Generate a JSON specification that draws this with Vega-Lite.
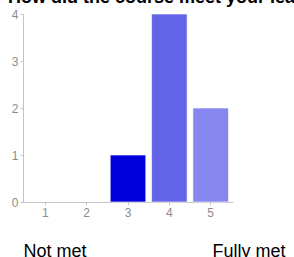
{
  "$schema": "https://vega.github.io/schema/vega-lite/v6.json",
  "width": 210,
  "height": 188,
  "autosize": {"type": "none"},
  "padding": {"left": 23, "top": 14, "right": 61, "bottom": 55},
  "background": "white",
  "title": {
    "text": "How did the course meet your learning objectives?",
    "anchor": "start",
    "frame": "group",
    "font": "Liberation Sans",
    "fontSize": 18,
    "fontWeight": "bold",
    "color": "#000000",
    "dx": -15,
    "dy": 3,
    "offset": 4
  },
  "data": {
    "values": [
      {"rating": "1", "count": 0},
      {"rating": "2", "count": 0},
      {"rating": "3", "count": 1},
      {"rating": "4", "count": 4},
      {"rating": "5", "count": 2}
    ]
  },
  "encoding": {
    "x": {
      "field": "rating",
      "type": "ordinal",
      "scale": {"paddingInner": 0.14, "paddingOuter": 0.11}
    }
  },
  "layer": [
    {
      "mark": {"type": "bar", "stroke": "#ffffff", "strokeWidth": 1},
      "encoding": {
        "x": {
          "field": "rating",
          "type": "ordinal",
          "axis": {
            "orient": "bottom",
            "labelAngle": 0,
            "title": "Not met",
            "titleAnchor": "start",
            "titleAlign": "left",
            "titleBaseline": "alphabetic",
            "titleX": 0,
            "titleY": 54
          }
        },
        "y": {
          "field": "count",
          "type": "quantitative",
          "scale": {"domain": [0, 4], "nice": false},
          "axis": {"title": null, "values": [0, 1, 2, 3, 4], "grid": false}
        },
        "strokeOpacity": {
          "condition": {"test": "datum.count > 0", "value": 0.6},
          "value": 0
        },
        "color": {
          "field": "rating",
          "type": "nominal",
          "scale": {"domain": ["1", "2", "3", "4", "5"], "range": ["#0000DC", "#0000DC", "#0000DC", "#6464E8", "#8686EE"]},
          "legend": null
        }
      }
    },
    {
      "mark": {"type": "bar", "opacity": 0},
      "encoding": {
        "x": {
          "field": "rating",
          "type": "ordinal",
          "axis": {
            "orient": "bottom",
            "labels": false,
            "ticks": false,
            "domain": false,
            "title": "Fully met",
            "titleAnchor": "end",
            "titleAlign": "right",
            "titleBaseline": "alphabetic",
            "titleX": 262,
            "titleY": 54
          }
        },
        "y": {"field": "count", "type": "quantitative"}
      }
    }
  ],
  "resolve": {"axis": {"x": "independent"}},
  "config": {
    "view": {"stroke": null},
    "axis": {
      "labelFont": "Liberation Sans",
      "labelFontSize": 12,
      "labelColor": "#8c8c8c",
      "domainColor": "#c4c4c4",
      "tickColor": "#c4c4c4",
      "tickSize": 3,
      "labelPadding": 2,
      "titleFont": "Liberation Sans",
      "titleFontSize": 18,
      "titleFontWeight": "normal",
      "titleColor": "#000000"
    }
  }
}
